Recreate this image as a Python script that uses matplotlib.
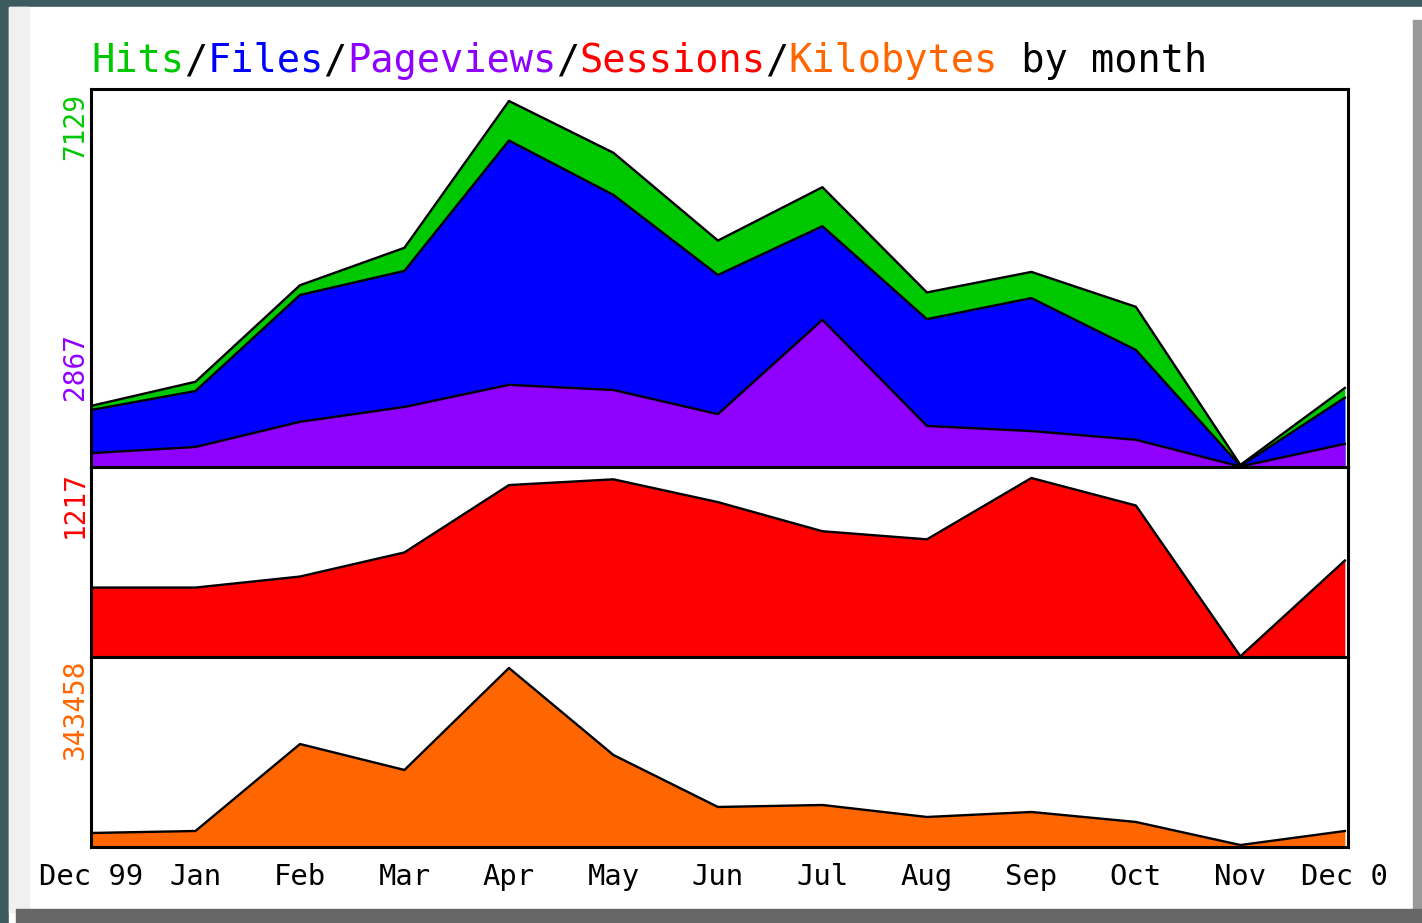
import numpy as np
import matplotlib.pyplot as plt
from matplotlib.patches import Rectangle

# ---- Data ----
months = ['Dec 99', 'Jan', 'Feb', 'Mar', 'Apr', 'May', 'Jun',
          'Jul', 'Aug', 'Sep', 'Oct', 'Nov', 'Dec 0']
hits = [1190, 1660, 3540, 4270, 7129, 6120, 4410, 5450, 3400, 3800, 3120, 40, 1540]
files = [1110, 1480, 3350, 3820, 6360, 5300, 3740, 4690, 2880, 3290, 2280, 20, 1350]
pageviews = [270, 390, 880, 1170, 1600, 1500, 1030, 2867, 800, 700, 530, 10, 450]
sessions = [472, 472, 547, 711, 1169, 1208, 1053, 855, 800, 1217, 1030, 5, 656]
kbytes = [26900, 30700, 197600, 147800, 343458, 176500, 76800, 80600,
          57600, 67200, 48000, 3800, 30700]

GREEN = '#00c800'
BLUE = '#0000ff'
PURPLE = '#9000ff'
RED = '#ff0000'
ORANGE = '#ff6600'

W, H = 1422, 923
fig = plt.figure(figsize=(W / 100, H / 100), dpi=100)
fig.patch.set_facecolor('#3d5a5e')

# ---- frame (bevelled white panel) ----
def px_rect(x0, y0, x1, y1, color):
    fig.patches.append(Rectangle((x0 / W, 1 - y1 / H), (x1 - x0) / W, (y1 - y0) / H,
                                 transform=fig.transFigure, color=color, zorder=-5))

px_rect(9, 7, 1422, 923, 'white')
px_rect(9, 7, 29, 912, '#f0f0f0')
px_rect(1413, 20, 1422, 923, '#999999')
px_rect(16, 909, 1422, 923, '#666666')

# ---- axes ----
left, right = 91, 1348
panels = [(89, 467), (467, 657), (657, 847)]
axes = []
for top, bot in panels:
    ax = fig.add_axes([left / W, 1 - bot / H, (right - left) / W, (bot - top) / H])
    ax.set_xlim(0, 12.03)
    ax.set_xticks([])
    ax.set_yticks([])
    for s in ax.spines.values():
        s.set_linewidth(2.2)
    ax.set_facecolor('white')
    axes.append(ax)

x = np.arange(len(months))
ax1, ax2, ax3 = axes
ax1.set_ylim(0, 7129 * 378 / 366)
ax2.set_ylim(0, 1217 * 190 / 179)
ax3.set_ylim(0, 343458 * 190 / 179)

for ax, series, col in [(ax1, hits, GREEN), (ax1, files, BLUE), (ax1, pageviews, PURPLE),
                        (ax2, sessions, RED), (ax3, kbytes, ORANGE)]:
    ax.fill_between(x, 0, series, color=col, linewidth=0)
    ax.plot(x, series, color='black', linewidth=1.7)

# ---- y labels (max values) ----
mono = 'DejaVu Sans Mono'
for val, col, ytop in [(max(hits), GREEN, 93), (max(pageviews), PURPLE, 333),
                       (max(sessions), RED, 471), (max(kbytes), ORANGE, 659)]:
    fig.text(89 / W, 1 - ytop / H, str(val), color=col, rotation=90,
             ha='right', va='top', family=mono, fontsize=20)

# ---- x labels ----
for i, m in enumerate(months):
    ax3.text(x[i], -0.16, m, transform=ax3.get_xaxis_transform(), ha='center', va='center',
             family=mono, fontsize=20.8, color='black', clip_on=False)

# ---- title in coloured pieces ----
parts = [('Hits', GREEN), ('/', 'black'), ('Files', BLUE), ('/', 'black'),
         ('Pageviews', PURPLE), ('/', 'black'), ('Sessions', RED), ('/', 'black'),
         ('Kilobytes', ORANGE), (' by month', 'black')]
renderer = fig.canvas.get_renderer()
xpos = 91 / W
for txt, col in parts:
    t = fig.text(xpos, 1 - 61 / H, txt, color=col, family=mono, fontsize=27.8,
                 ha='left', va='center')
    bb = t.get_window_extent(renderer)
    xpos = bb.x1 / W

fig.savefig('out.png', dpi=100, facecolor=fig.get_facecolor())
